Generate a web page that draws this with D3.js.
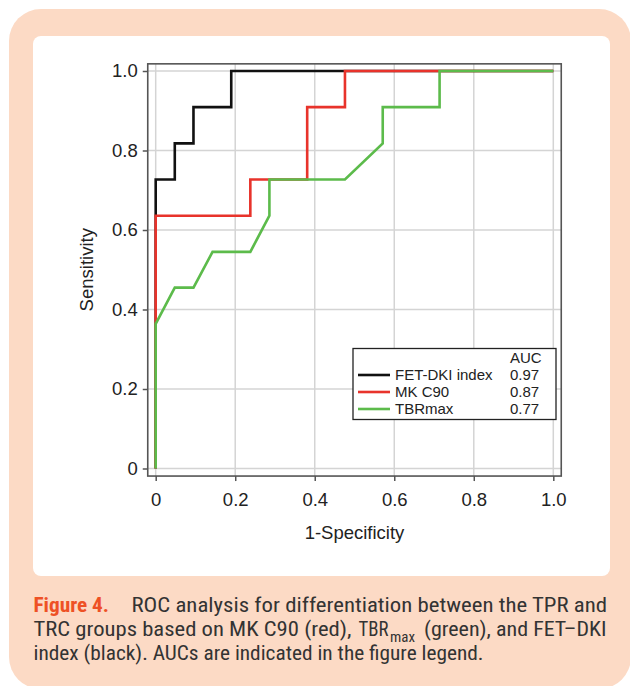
<!DOCTYPE html>
<html>
<head>
<meta charset="utf-8">
<title>ROC analysis</title>
<script src="https://d3js.org/d3.v7.min.js"></script>
<style>
    body { margin: 0; background: #ffffff; }
    svg { display: block; font-family: "Liberation Sans", Arial, sans-serif; }
</style>
</head>
<body>
<svg id="chart" width="630" height="686"></svg>
<script>
// ROC curves (1-specificity, sensitivity)
const fetFpr = [0, 0, 0.048, 0.048, 0.095, 0.095, 0.19, 0.19, 1];
const fetTpr = [0, 0.727, 0.727, 0.818, 0.818, 0.909, 0.909, 1, 1];
const mkFpr = [0, 0, 0.238, 0.238, 0.381, 0.381, 0.476, 0.476, 1];
const mkTpr = [0, 0.636, 0.636, 0.727, 0.727, 0.909, 0.909, 1, 1];
const tbrFpr = [0, 0, 0.048, 0.095, 0.143, 0.238, 0.286, 0.286, 0.476, 0.571, 0.571, 0.714, 0.714, 1];
const tbrTpr = [0, 0.364, 0.455, 0.455, 0.545, 0.545, 0.636, 0.727, 0.727, 0.818, 0.909, 0.909, 1, 1];

const seriesNames = ["FET-DKI index", "MK C90", "TBRmax"];
const aucValues = ["0.97", "0.87", "0.77"];
const seriesColors = ["#111111", "#e8332b", "#5cbb4b"];

const xTicks = [0, 0.2, 0.4, 0.6, 0.8, 1.0];
const xTickLabels = ["0", "0.2", "0.4", "0.6", "0.8", "1.0"];
const yTicks = [0, 0.2, 0.4, 0.6, 0.8, 1.0];
const yTickLabels = ["0", "0.2", "0.4", "0.6", "0.8", "1.0"];

const svg = d3.select("#chart");

// peach card + white panel
svg.append("rect")
    .attr("x", 9).attr("y", 9).attr("width", 622).attr("height", 680)
    .attr("rx", 32).attr("fill", "#fcdac5");
svg.append("rect")
    .attr("x", 33).attr("y", 36).attr("width", 577).attr("height", 540)
    .attr("rx", 8).attr("fill", "#ffffff");

const x = d3.scaleLinear().domain([0, 1]).range([155.7, 553.3]);
const y = d3.scaleLinear().domain([0, 1]).range([468.5, 71]);

const frameL = x(-0.02), frameR = x(1.02), frameT = y(1.018), frameB = y(-0.019);

// grid
svg.append("g").selectAll("line").data(xTicks).join("line")
    .attr("x1", d => x(d)).attr("x2", d => x(d))
    .attr("y1", frameT).attr("y2", frameB)
    .attr("stroke", "#d4d4d4").attr("stroke-width", 1.5);
svg.append("g").selectAll("line").data(yTicks).join("line")
    .attr("y1", d => y(d)).attr("y2", d => y(d))
    .attr("x1", frameL).attr("x2", frameR)
    .attr("stroke", "#d4d4d4").attr("stroke-width", 1.5);

// axes
const xAxis = svg.append("g")
    .attr("transform", `translate(0,${frameB})`)
    .call(d3.axisBottom(x).tickValues(xTicks).tickFormat((d, i) => xTickLabels[i])
        .tickSize(5).tickPadding(12));
const yAxis = svg.append("g")
    .attr("transform", `translate(${frameL},0)`)
    .call(d3.axisLeft(y).tickValues(yTicks).tickFormat((d, i) => yTickLabels[i])
        .tickSize(5).tickPadding(5));
[xAxis, yAxis].forEach(g => {
    g.select(".domain").remove();
    g.selectAll(".tick line").attr("stroke", "#555").attr("stroke-width", 1.5);
    g.selectAll(".tick text").attr("fill", "#222").style("font-size", "18.5px")
        .style("font-family", "'Liberation Sans', Arial, sans-serif");
});

// curves: black first, green on top
const line = d3.line().x(d => x(d[0])).y(d => y(d[1]));
const curves = [d3.zip(fetFpr, fetTpr), d3.zip(mkFpr, mkTpr), d3.zip(tbrFpr, tbrTpr)];
svg.append("g").selectAll("path").data(curves).join("path")
    .attr("d", line)
    .attr("fill", "none")
    .attr("stroke", (d, i) => seriesColors[i])
    .attr("stroke-width", 2.6)
    .attr("stroke-linejoin", "miter");

// frame
svg.append("rect")
    .attr("x", frameL).attr("y", frameT)
    .attr("width", frameR - frameL).attr("height", frameB - frameT)
    .attr("fill", "none").attr("stroke", "#555").attr("stroke-width", 1.6);

// axis titles
svg.append("text")
    .attr("x", (x(0) + x(1)) / 2).attr("y", 539)
    .attr("text-anchor", "middle").attr("fill", "#222")
    .style("font-size", "18.5px").text("1-Specificity");
svg.append("text")
    .attr("transform", `translate(93,${(y(0) + y(1)) / 2}) rotate(-90)`)
    .attr("text-anchor", "middle").attr("fill", "#222")
    .style("font-size", "18.5px").text("Sensitivity");

// legend
const legend = svg.append("g");
legend.append("rect")
    .attr("x", 353).attr("y", 348.5).attr("width", 203).attr("height", 71)
    .attr("fill", "#ffffff").attr("stroke", "#222").attr("stroke-width", 1.3);
legend.append("text")
    .attr("x", 510).attr("y", 362.5).attr("fill", "#222")
    .style("font-size", "15px").text("AUC");
const rows = legend.selectAll(".row").data(seriesNames).join("g")
    .attr("class", "row")
    .attr("transform", (d, i) => `translate(0,${379.5 + i * 17})`);
rows.append("line")
    .attr("x1", 358).attr("x2", 390).attr("y1", -4.5).attr("y2", -4.5)
    .attr("stroke", (d, i) => seriesColors[i]).attr("stroke-width", 2.6);
rows.append("text")
    .attr("x", 395).attr("fill", "#222")
    .style("font-size", "15px").text(d => d);
rows.append("text")
    .attr("x", 510).attr("fill", "#222")
    .style("font-size", "15px").text((d, i) => aucValues[i]);

// caption
const cap = svg.append("g")
    .style("font-family", "'Liberation Sans Narrow', 'Roboto Condensed', Roboto, 'Liberation Sans', sans-serif")
    .style("font-size", "20px").attr("fill", "#333333");
cap.append("text").attr("x", 33.5).attr("y", 611.5)
    .attr("fill", "#ee5125").style("font-weight", "bold")
    .attr("textLength", 75.5).attr("lengthAdjust", "spacingAndGlyphs")
    .text("Figure 4.");
cap.append("text").attr("x", 131.5).attr("y", 611.5)
    .attr("textLength", 475.5).attr("lengthAdjust", "spacingAndGlyphs")
    .text("ROC analysis for differentiation between the TPR and");
cap.append("text").attr("x", 33.5).attr("y", 635.5)
    .attr("textLength", 318).attr("lengthAdjust", "spacingAndGlyphs")
    .text("TRC groups based on MK C90 (red),");
cap.append("text").attr("x", 358.5).attr("y", 635.5)
    .attr("textLength", 30).attr("lengthAdjust", "spacingAndGlyphs")
    .text("TBR");
cap.append("text").attr("x", 390).attr("y", 641.5)
    .style("font-size", "14px")
    .attr("textLength", 25).attr("lengthAdjust", "spacingAndGlyphs")
    .text("max");
cap.append("text").attr("x", 424).attr("y", 635.5)
    .attr("textLength", 182.5).attr("lengthAdjust", "spacingAndGlyphs")
    .text("(green), and FET\u2013DKI");
cap.append("text").attr("x", 33.5).attr("y", 660)
    .attr("textLength", 450).attr("lengthAdjust", "spacingAndGlyphs")
    .text("index (black). AUCs are indicated in the figure legend.");
</script>
</body>
</html>
